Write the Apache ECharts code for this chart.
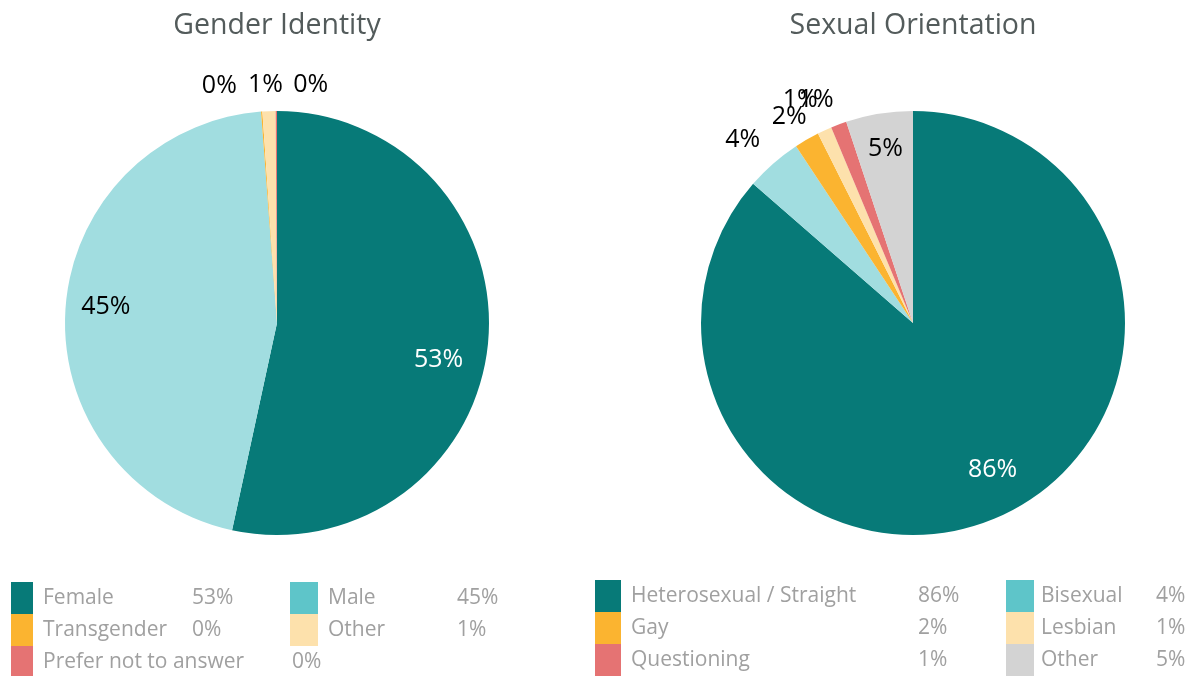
<!DOCTYPE html>
<html>
<head>
<meta charset="utf-8">
<title>Gender Identity / Sexual Orientation</title>
<script src="https://cdn.jsdelivr.net/npm/echarts@6/dist/echarts.min.js"></script>
<style>
  html, body { margin: 0; padding: 0; background: #ffffff; }
  #survey_pies { width: 1193px; height: 676px; }
</style>
</head>
<body>
<div id="survey_pies"></div>
<script>
var gender_names = ['Female', 'Male', 'Transgender', 'Other', 'Prefer not to answer'];
var gender_values = [53.4, 45.4, 0.1, 1.0, 0.1];

var orient_names = ['Heterosexual / Straight', 'Bisexual', 'Gay', 'Lesbian', 'Questioning', 'Other'];
var orient_values = [86.4, 4.3, 1.9, 1.1, 1.2, 5.1];

var gender_slice_colors = ['#077a78', '#a1dde0', '#fbb430', '#fde1ac', '#e57373'];
var gender_key_colors = ['#077a78', '#5ec5c9', '#fbb430', '#fde1ac', '#e57373'];
var orient_slice_colors = ['#077a78', '#a1dde0', '#fbb430', '#fde1ac', '#e57373', '#d3d3d3'];
var orient_key_colors = ['#077a78', '#5ec5c9', '#fbb430', '#fde1ac', '#e57373', '#d3d3d3'];

// small nudges so the labels sit like in the original
var gender_nudges = {0: [-10, 18], 1: [1, -4], 2: [-23, 0], 3: [15, 0], 4: [52, 0]};
var orient_nudges = {0: [8, -10], 1: [4, -4], 2: [13, 0], 3: [4, -7], 4: [4, 0], 5: [0, -4]};

var FONT = 'Open Sans';
var KEY_GREY = '#a0a0a0';
var KEY_SIZE = 21;

function pct_text(v) {
  return Math.round(v) + '%';
}

function text_width(str, font) {
  var ctx = document.createElement('canvas').getContext('2d');
  ctx.font = font;
  return ctx.measureText(str).width;
}

function pie_series(id, names, values, colors, center, nudges) {
  var R = 212;
  var base = [], overlay = [];
  for (var i = 0; i < names.length; i++) {
    var big = values[i] >= 5;
    var item = {name: names[i], value: values[i], itemStyle: {color: colors[i]}, label: {show: !big}};
    var top_item = {name: names[i], value: values[i],
      label: {show: big, color: i === 0 ? '#ffffff' : '#000000'}};
    if (nudges[i]) {
      item.label.offset = nudges[i];
      top_item.label.offset = nudges[i];
    }
    base.push(item);
    overlay.push(top_item);
  }
  var fmt = function(p) { return Math.round(p.percent) + '%'; };
  return [
    {
      type: 'pie', name: id, center: center, radius: R,
      startAngle: 90, clockwise: true, avoidLabelOverlap: false, silent: true,
      label: {position: 'outside', formatter: fmt, fontFamily: FONT, fontSize: 25,
              color: '#000000', distanceToLabelLine: 0},
      labelLine: {show: false, length: 26, length2: 0},
      labelLayout: {hideOverlap: false},
      emphasis: {disabled: true},
      data: base
    },
    {
      /*capa transparente solo para las etiquetas grandes*/
      type: 'pie', name: id + '_labels', center: center, radius: [R * 0.6, R],
      startAngle: 90, clockwise: true, avoidLabelOverlap: false, silent: true,
      itemStyle: {color: 'rgba(0,0,0,0)'},
      label: {position: 'inside', formatter: fmt, fontFamily: FONT, fontSize: 25},
      labelLine: {show: false},
      labelLayout: {hideOverlap: false},
      emphasis: {disabled: true},
      data: overlay
    }
  ];
}

function key_columns(names, values, colors, lefts, top, swatch_widths, text_gaps, name_widths) {
  var legends = [];
  for (var c = 0; c < 2; c++) {
    var items = [];
    var lookup = {};
    var rich = {
      g: {width: text_gaps[c] - 5},
      p: {fontFamily: FONT, fontSize: KEY_SIZE, color: KEY_GREY}
    };
    for (var i = c; i < names.length; i += 2) {
      var tw = Math.ceil(text_width(names[i], KEY_SIZE + 'px "' + FONT + '"'));
      var w = tw < name_widths[c] - 10 ? name_widths[c] : tw + 47;
      rich['n' + i] = {width: w, fontFamily: FONT, fontSize: KEY_SIZE, color: KEY_GREY};
      lookup[names[i]] = i;
      items.push({name: names[i], icon: 'rect', itemStyle: {color: colors[i], borderWidth: 0}});
    }
    legends.push({
      orient: 'vertical',
      left: lefts[c],
      top: top,
      height: 110,
      padding: 0,
      itemGap: 0,
      itemWidth: swatch_widths[c],
      itemHeight: 32,
      selectedMode: false,
      data: items,
      textStyle: {fontFamily: FONT, fontSize: KEY_SIZE, color: KEY_GREY, rich: rich},
      formatter: (function(lk) {
        return function(name) {
          var k = lk[name];
          return '{g| }{n' + k + '|' + name + '}{p|' + pct_text(values[k]) + '}';
        };
      })(lookup)
    });
  }
  return legends;
}

function draw_survey_pies() {
  var myChart = echarts.init(document.getElementById('survey_pies'));
  var series = pie_series('gender', gender_names, gender_values, gender_slice_colors, [277, 323], gender_nudges)
    .concat(pie_series('orient', orient_names, orient_values, orient_slice_colors, [913, 323], orient_nudges));
  var legends = key_columns(gender_names, gender_values, gender_key_colors, [11, 290], 582, [22, 28], [10, 10], [149, 129])
    .concat(key_columns(orient_names, orient_values, orient_key_colors, [595, 1006], 580, [26, 28], [10, 7], [287, 115]));
  var option = {
    backgroundColor: '#ffffff',
    animation: false,
    graphic: [
      {type: 'text', x: 277, y: 26,
       style: {text: 'Gender Identity', fill: '#535b5b', font: '28.5px "Open Sans"', align: 'center', verticalAlign: 'middle'}},
      {type: 'text', x: 913, y: 26,
       style: {text: 'Sexual Orientation', fill: '#535b5b', font: '28.5px "Open Sans"', align: 'center', verticalAlign: 'middle'}}
    ],
    legend: legends,
    series: series
  };
  myChart.setOption(option);

  window.addEventListener('resize', function() {
    if (myChart != null && myChart != undefined) {
      myChart.resize();
    }
  });
}

draw_survey_pies();
</script>
</body>
</html>
